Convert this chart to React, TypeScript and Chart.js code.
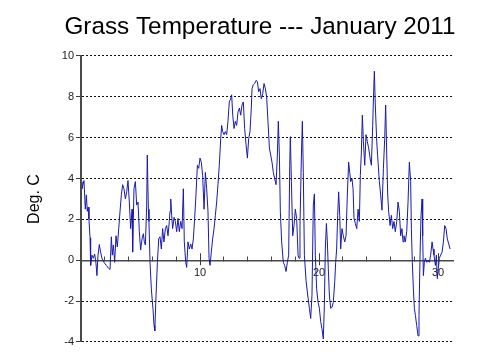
import { useEffect, useRef } from "react";
import { Chart, registerables } from "chart.js";

Chart.register(...registerables);

const TITLE = "Grass Temperature --- January 2011";
const Y_LABEL = "Deg. C";
const X_LABELED_TICKS = [10, 20, 30];
const Y_MIN = -4;
const Y_MAX = 10;
const X_MIN = 0;
const X_MAX = 31.3;

// Day of month (fractional) and grass temperature (deg C)
const daysA = [0.00,0.08,0.25,0.36,0.45,0.53,0.59,0.67,0.76,0.81,0.92,1.04,1.15,1.26,1.34,1.43,1.54,1.65,1.76,1.93,2.13,2.33,2.44,2.55,2.63,2.72,2.83,2.94,3.05,3.17,3.28,3.39,3.50,3.61,3.73,3.84,3.95,4.06,4.17,4.29,4.34,4.45,4.57,4.68,4.79,4.90,5.01,5.13,5.24,5.32,5.41,5.52,5.57,5.66,5.71,5.80,5.91,6.05,6.14,6.20,6.30,6.42];
const tempsA = [3.84,3.5,3.9,2.5,3.2,2.4,2.6,2.0,1.1,-0.25,0.25,0.1,0.3,-0.15,-0.75,0.25,0.77,0.4,0.1,-0.1,-0.25,-0.4,-0.45,1.15,0.25,0.75,-0.1,1.2,0.65,1.55,2.4,3.2,3.7,3.5,3.0,3.35,3.9,2.85,1.55,2.5,0.4,3.5,3.85,2.7,2.85,1.4,0.5,1.05,1.3,0.9,0.75,2.7,5.15,2.5,1.9,-0.1,-1.4,-2.4,-3.2,-3.45,-1.8,-0.1];

const daysB = [6.53,6.64,6.75,6.86,6.97,7.09,7.20,7.31,7.42,7.48,7.54,7.62,7.70,7.82,7.93,8.04,8.15,8.26,8.38,8.49,8.60,8.68,8.80,8.88,8.99,9.10,9.22,9.33,9.44,9.55,9.66,9.78,9.89,10.00,10.11,10.22,10.34,10.45,10.56,10.67,10.76,10.84,10.95,11.06,11.18,11.29,11.40,11.51,11.62,11.74,11.82,11.90,12.02,12.13,12.24,12.35,12.46,12.58];
const tempsB = [1.05,1.15,0.55,1.55,0.9,1.55,1.7,1.2,1.9,2.4,3.0,2.2,1.55,2.1,1.9,1.4,2.05,1.4,1.9,1.55,3.5,0.9,-0.1,-0.35,0.9,0.55,0.8,0.55,1.05,2.05,3.2,4.65,4.5,5.0,4.8,4.15,2.5,4.3,3.5,2.4,0.1,-0.25,0.4,1.05,1.55,2.2,2.85,3.7,4.65,5.95,6.6,6.3,6.15,6.3,6.15,6.8,7.75,7.9];

const daysC = [12.66,12.75,12.86,12.97,13.08,13.19,13.31,13.42,13.53,13.64,13.75,13.87,13.98,14.09,14.20,14.31,14.37,14.48,14.59,14.71,14.82,14.93,15.04,15.15,15.27,15.38,15.49,15.60,15.71,15.83,15.94,16.05,16.16,16.27,16.39,16.50,16.58,16.67,16.75,16.86,17.00,17.11,17.23,17.34,17.45,17.54,17.59,17.68,17.79,17.90,18.01,18.12,18.24,18.32,18.40,18.52,18.60,18.68,18.77,18.91];
const tempsC = [8.1,7.1,6.45,6.8,6.6,7.25,7.45,7.1,7.6,7.75,6.45,5.65,5.0,5.95,6.3,7.45,8.4,8.6,8.65,8.8,8.75,8.25,8.4,7.9,8.15,8.65,8.4,8.0,6.8,5.5,5.15,4.8,4.3,4.0,3.7,5.15,6.8,5.15,2.4,0.9,-0.1,-0.25,-0.55,-0.1,0.25,4.65,6.05,3.85,1.2,1.7,2.5,2.05,0.25,0.1,1.7,5.15,6.8,4.3,0.25,-1.0];

const daysD = [19.05,19.19,19.30,19.41,19.52,19.61,19.69,19.80,19.92,20.03,20.14,20.25,20.36,20.45,20.53,20.62,20.70,20.78,20.87,20.98,21.09,21.20,21.32,21.40,21.48,21.57,21.65,21.74,21.82,21.93,22.04,22.16,22.27,22.38,22.49,22.58,22.66,22.77,22.86,22.94,23.05,23.17,23.28,23.39,23.47,23.56,23.64,23.73,23.84,23.95,24.06,24.17,24.29,24.40,24.51,24.59,24.65,24.73,24.85,24.96,25.07,25.18,25.29];
const tempsD = [-1.7,-2.35,-2.85,-1.7,2.7,3.25,0.25,-1.4,-2.05,-2.35,-3.0,-3.35,-3.85,-2.2,0.55,1.8,0.9,-0.4,-1.7,-2.35,-2.3,-2.05,-1.05,-0.1,0.55,2.2,3.35,2.2,0.55,1.55,1.2,0.9,1.2,3.2,4.8,4.3,3.85,4.0,3.5,2.05,1.8,1.55,2.5,1.9,4.15,5.3,7.1,5.8,4.65,6.15,5.8,5.5,5.0,4.65,6.6,8.25,9.25,7.6,5.8,4.8,3.85,3.2,2.45];

const daysE = [25.41,25.52,25.60,25.69,25.77,25.85,25.97,26.08,26.19,26.30,26.41,26.53,26.64,26.75,26.86,26.97,27.06,27.14,27.25,27.37,27.48,27.59,27.70,27.76,27.84,27.93,28.01,28.10,28.21,28.32,28.40,28.49,28.57,28.66,28.71,28.77,28.85,28.94,29.05,29.16,29.27,29.38,29.50,29.58,29.66,29.78,29.86,29.94,30.03,30.11,30.22,30.34,30.45,30.56,30.67,30.78,30.90,31.01];
const tempsE = [4.5,5.95,7.6,5.15,3.2,2.4,1.7,2.2,1.55,1.9,1.4,1.9,2.85,2.4,1.2,1.55,0.9,1.2,0.9,1.4,2.85,4.8,3.85,1.55,-0.1,-1.4,-2.35,-2.7,-3.2,-3.7,-2.7,0.25,2.2,3.0,1.2,-0.75,-0.1,0.1,-0.1,0,-0.1,0.25,0.9,0.55,0.25,-0.25,0.25,-0.9,-0.4,0.1,0.25,0.4,0.9,1.7,1.55,1.05,0.8,0.55];

const FONT = "'Liberation Sans', Arial, Helvetica, sans-serif";

// Draws the solid left axis line and the longer major x ticks (10, 20, 30) crossing the zero line
const axisDetails = {
  id: "axisDetails",
  afterDraw(chart: any) {
    const { ctx, chartArea, scales } = chart;
    const xs = scales.x;
    const ys = scales.y;
    const y0 = ys.getPixelForValue(0);
    ctx.save();
    ctx.strokeStyle = "#4a4a4a";
    ctx.lineWidth = 2;
    ctx.beginPath();
    ctx.moveTo(chartArea.left, chartArea.top);
    ctx.lineTo(chartArea.left, chartArea.bottom);
    ctx.stroke();
    ctx.lineWidth = 1;
    ctx.strokeStyle = "#3a3a3a";
    for (const v of X_LABELED_TICKS) {
      const px = Math.round(xs.getPixelForValue(v)) + 0.5;
      ctx.beginPath();
      ctx.moveTo(px, y0 - 7);
      ctx.lineTo(px, y0 + 5);
      ctx.stroke();
    }
    ctx.restore();
  },
};

export default function App() {
  const ref = useRef<HTMLCanvasElement>(null);

  useEffect(() => {
    if (!ref.current) return;
    Chart.defaults.font.family = FONT;
    const days = [...daysA, ...daysB, ...daysC, ...daysD, ...daysE];
    const temps = [...tempsA, ...tempsB, ...tempsC, ...tempsD, ...tempsE];
    const points = days.map((d, i) => ({ x: d, y: temps[i] }));

    const chart = new Chart(ref.current, {
      type: "line",
      data: {
        datasets: [
          {
            data: points,
            xAxisID: "x",
            yAxisID: "y",
            borderColor: "#1a1aae",
            borderWidth: 1,
            pointRadius: 0,
            tension: 0,
            fill: false,
          },
        ],
      },
      plugins: [axisDetails],
      options: {
        animation: false,
        responsive: false,
        devicePixelRatio: 1,
        layout: { padding: { left: 20, right: 0, top: 0, bottom: 10 } },
        plugins: {
          legend: { display: false },
          tooltip: { enabled: false },
          title: {
            display: true,
            text: TITLE,
            color: "#000",
            font: { size: 24.3, weight: "normal", family: FONT },
            padding: { top: 13, bottom: 13.8 },
          },
        },
        scales: {
          x: {
            type: "linear",
            position: { y: 0 } as any,
            min: X_MIN,
            max: X_MAX,
            grid: {
              drawOnChartArea: false,
              tickLength: -5,
              color: "#444",
              lineWidth: 1,
            },
            border: { color: "#4a4a4a", width: 1.5 },
            ticks: {
              stepSize: 2,
              includeBounds: false,
              autoSkip: false,
              maxRotation: 0,
              padding: 11,
              color: "#222",
              font: { size: 11, family: FONT },
              callback: (v: any) => (X_LABELED_TICKS.includes(Number(v)) ? String(v) : ""),
            },
          },
          y: {
            type: "linear",
            position: "left",
            min: Y_MIN,
            max: Y_MAX,
            ticks: {
              stepSize: 2,
              color: "#222",
              padding: 2,
              font: { size: 11, family: FONT },
            },
            grid: {
              color: (ctx: any) => (ctx.tick && ctx.tick.value === 0 ? "rgba(0,0,0,0)" : "#111"),
              lineWidth: 1,
              tickLength: 5,
              tickColor: "#3a3a3a",
            },
            border: { color: "#4a4a4a", width: 2, dash: [2, 2] },
            title: {
              display: true,
              text: Y_LABEL,
              color: "#000",
              font: { size: 16, family: FONT },
              padding: { top: 5.4, bottom: 0 },
            },
            afterFit: (s: any) => {
              s.width = 61;
            },
          },
          y2: {
            type: "linear",
            position: "right",
            display: true,
            grid: { display: false },
            border: { display: false },
            ticks: { display: false },
            afterFit: (s: any) => {
              s.width = 46.5;
            },
          },
        },
      } as any,
    });
    return () => chart.destroy();
  }, []);

  return (
    <div style={{ position: "absolute", left: 0, top: 0, width: 500, height: 352, background: "#fff" }}>
      <canvas ref={ref} width={500} height={352} style={{ display: "block" }} />
    </div>
  );
}
